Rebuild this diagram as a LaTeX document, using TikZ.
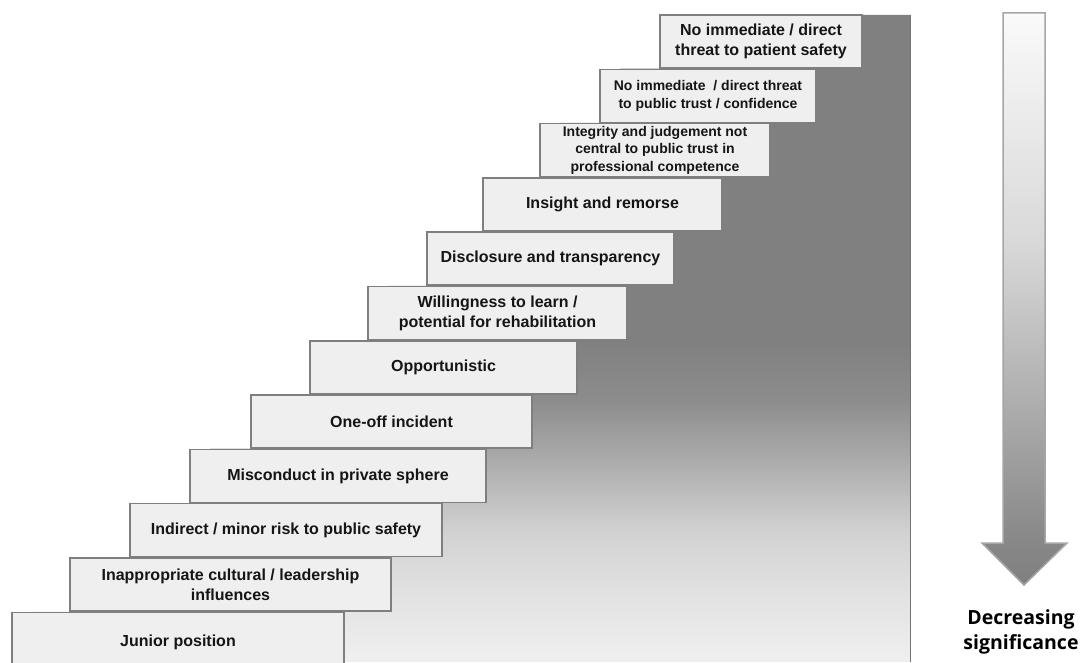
\documentclass[tikz,border=0pt]{standalone}
\usepackage{fontspec}
\setmainfont{Liberation Sans}
\newfontfamily\arrowfont{Open Sans}
\definecolor{boxfill}{HTML}{EFEFEF}
\definecolor{boxline}{HTML}{7F7F7F}
\definecolor{txt}{HTML}{151515}
\definecolor{arrowline}{HTML}{A6A6A6}
\pgfdeclareverticalshading{panelshade}{100bp}{%
  color(0bp)=(black!6);
  color(25bp)=(black!6);
  color(29.8bp)=(black!11);
  color(35.2bp)=(black!18);
  color(41bp)=(black!34);
  color(45.25bp)=(black!45);
  color(49.9bp)=(black!50);
  color(75bp)=(black!50);
  color(100bp)=(black!50)}
\pgfdeclareverticalshading{arrowshade}{100bp}{%
  color(0bp)=(black!50);
  color(25bp)=(black!50);
  color(28.7bp)=(black!47);
  color(40bp)=(black!33);
  color(55bp)=(black!15);
  color(75bp)=(black!2);
  color(100bp)=(black!2)}
\tikzset{
  stepbox/.style={draw=boxline, fill=boxfill, line width=1.5pt,
    minimum height=53pt, inner sep=0pt, align=center, text=txt,
    font=\bfseries\fontsize{16}{20}\selectfont},
  smallstep/.style={stepbox, font=\bfseries\fontsize{14}{17.5}\selectfont},
}
\begin{document}
\begin{tikzpicture}[x=1pt,y=1pt]
\useasboundingbox (0,0) rectangle (1082,662);
\clip (0,0) rectangle (1082,662);
% background panel
\shade[shading=panelshade]
  (910,647) -- (680,647) -- (680,593.35) -- (620,593.35) -- (620,539.05)
  -- (560,539.05) -- (560,484.75) -- (503,484.75) -- (503,430.45)
  -- (447,430.45) -- (447,376.15) -- (388,376.15) -- (388,321.85)
  -- (330,321.85) -- (330,267.55) -- (271,267.55) -- (271,213.25)
  -- (210,213.25) -- (210,158.95) -- (150,158.95) -- (150,104.65)
  -- (90,104.65) -- (90,50.35) -- (32,50.35) -- (32,0) -- (910,0) -- cycle;
\draw[black!55, line width=0.8pt] (910,647) -- (910,0);
% steps
\node[stepbox, minimum width=202pt] (s1) at (761,620.5) {No immediate / direct\\threat to patient safety};
\node[smallstep, minimum width=216pt] (s2) at (708,566.2) {No immediate \ / direct threat\\to public trust / confidence};
\node[smallstep, minimum width=230pt] (s3) at (655,511.9) {Integrity and judgement not\\central to public trust in\\professional competence};
\node[stepbox, minimum width=239pt] (s4) at (602.5,457.6) {Insight and remorse};
\node[stepbox, minimum width=247pt] (s5) at (550.5,403.3) {Disclosure and transparency};
\node[stepbox, minimum width=259pt] (s6) at (497.5,349) {Willingness to learn /\\potential for rehabilitation};
\node[stepbox, minimum width=267pt] (s7) at (443.5,294.7) {Opportunistic};
\node[stepbox, minimum width=281pt] (s8) at (391.5,240.4) {One-off incident};
\node[stepbox, minimum width=296pt] (s9) at (338,186.1) {Misconduct in private sphere};
\node[stepbox, minimum width=312pt] (s10) at (286,131.8) {Indirect / minor risk to public safety};
\node[stepbox, minimum width=321pt] (s11) at (230.5,77.5) {Inappropriate cultural / leadership\\influences};
\node[stepbox, minimum width=332pt, minimum height=56pt, text depth=0pt] (s12) at (178,21.7) {Junior position};
% arrow
\shade[shading=arrowshade, draw=arrowline, line width=1.5pt]
  (1003,649) -- (1045,649) -- (1045,119) -- (1067,119) -- (1024,77)
  -- (982,119) -- (1003,119) -- cycle;
\node[font=\arrowfont\bfseries\fontsize{19.5}{25}\selectfont, align=center, text=black, inner sep=0pt] (lbl) at (1021,30) {Decreasing\\significance};
\end{tikzpicture}
\end{document}
